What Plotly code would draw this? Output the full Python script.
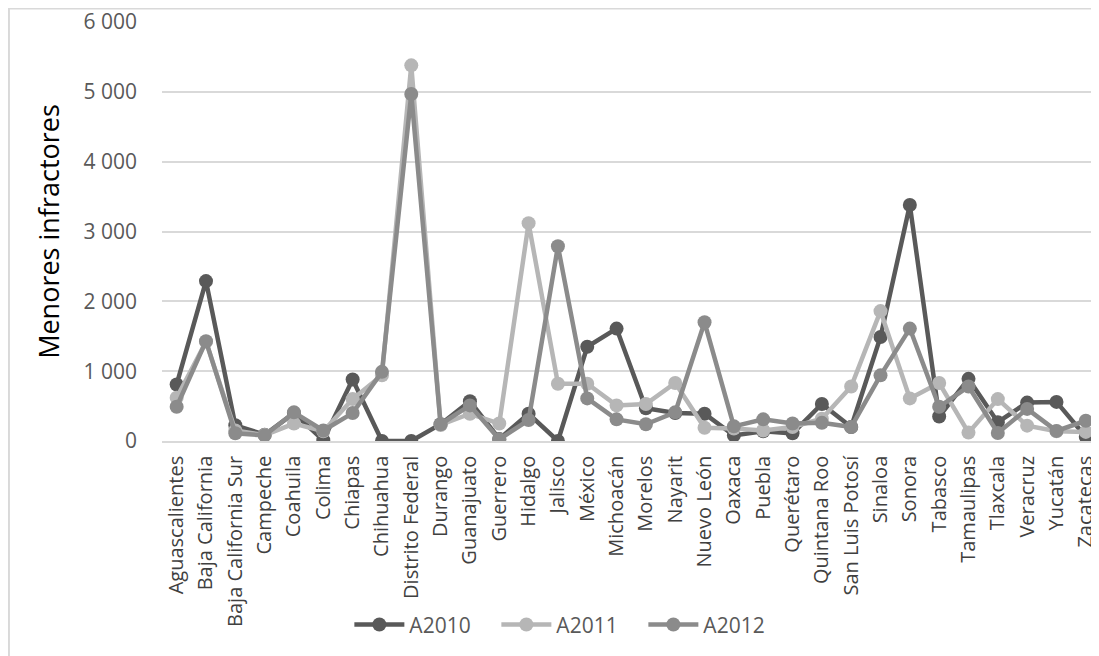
import plotly.graph_objects as go

estados = ["Aguascalientes", "Baja California", "Baja California Sur", "Campeche", "Coahuila",
           "Colima", "Chiapas", "Chihuahua", "Distrito Federal", "Durango", "Guanajuato",
           "Guerrero", "Hidalgo", "Jalisco", "México", "Michoacán", "Morelos", "Nayarit",
           "Nuevo León", "Oaxaca", "Puebla", "Querétaro", "Quintana Roo", "San Luis Potosí",
           "Sinaloa", "Sonora", "Tabasco", "Tamaulipas", "Tlaxcala", "Veracruz", "Yucatán",
           "Zacatecas"]

a2010 = [810, 2290, 225, 90, 400, 10, 880, 0, 0, 240, 570, 30, 390, 0, 1350, 1610, 470, 400,
         390, 80, 140, 110, 530, 200, 1490, 3380, 350, 890, 270, 550, 560, 60]
a2011 = [620, 1420, 150, 85, 250, 140, 600, 940, 5380, 230, 390, 250, 3120, 820, 820, 510,
         530, 830, 190, 180, 150, 200, 320, 780, 1860, 610, 830, 120, 600, 220, 140, 130]
a2012 = [490, 1430, 110, 80, 410, 150, 400, 990, 4970, 240, 510, 25, 300, 2790, 610, 310,
         240, 410, 1700, 210, 310, 250, 260, 200, 940, 1610, 490, 780, 115, 460, 145, 290]

y_ticks = [0, 1000, 2000, 3000, 4000, 5000, 6000]

series = [("A2010", a2010, "#595959"), ("A2011", a2011, "#b6b6b6"), ("A2012", a2012, "#8b8b8b")]

fig = go.Figure()
for name, vals, col in series:
    fig.add_trace(go.Scatter(
        x=estados, y=vals, name=name, mode="lines+markers",
        line=dict(color=col, width=4.5),
        marker=dict(color=col, size=14),
    ))

W, H = 1091, 648
L, T, B = 154, 14, 215
plot_w = W - L
plot_h = H - T - B

fig.update_layout(
    width=W, height=H,
    margin=dict(l=L, r=0, t=T, b=B, autoexpand=False),
    paper_bgcolor="white", plot_bgcolor="white",
    separators=", ",
    font=dict(family="Open Sans", color="#595959"),
    showlegend=True,
    legend=dict(orientation="h", xref="container", yref="container",
                x=0.515, y=0.048, xanchor="center", yanchor="middle",
                font=dict(size=21, color="#595959"),
                itemwidth=50,
                entrywidth=82, entrywidthmode="pixels"),
    xaxis=dict(
        type="category", range=[-0.5, 31.45],
        tickangle=-90, tickfont=dict(size=20, color="#404040"),
        showgrid=False, showline=True, linecolor="#d9d9d9", linewidth=1.5,
        ticks="", ticklabelstandoff=5,
    ),
    yaxis=dict(
        range=[0, 6000.5], tickvals=y_ticks,
        tickformat=",d", tickfont=dict(size=21, color="#595959"),
        ticklabeloverflow="allow",
        showgrid=True, gridcolor="#d9d9d9", gridwidth=1.5,
        zeroline=False, showline=False, ticks="", ticklabelstandoff=24,
        title=dict(text="Menores infractores", font=dict(size=27, color="#000000"), standoff=16),
    ),
    shapes=[
        dict(type="line", xref="paper", yref="paper",
             x0=-L / plot_w + 0.001, x1=1.01, y0=1 + (T - 0.5) / plot_h, y1=1 + (T - 0.5) / plot_h,
             line=dict(color="#d9d9d9", width=2)),
        dict(type="line", xref="paper", yref="paper",
             x0=-L / plot_w + 0.001, x1=-L / plot_w + 0.001, y0=1 + T / plot_h, y1=-B / plot_h,
             line=dict(color="#d9d9d9", width=2)),
    ],
)

fig.write_html("out.html")
